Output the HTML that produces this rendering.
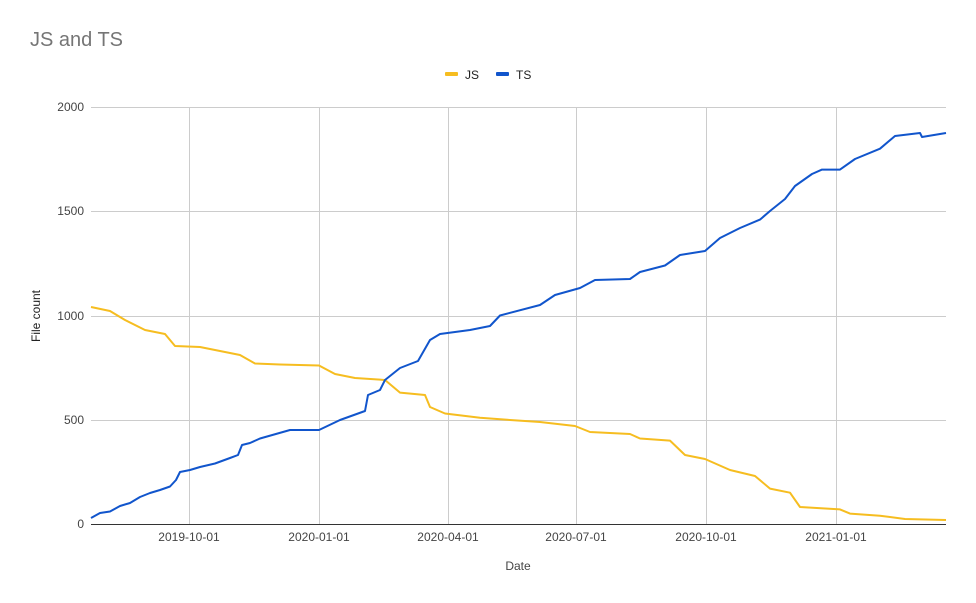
<!DOCTYPE html>
<html><head><meta charset="utf-8"><style>
html,body{margin:0;padding:0;background:#fff;}
svg{display:block;font-family:"Liberation Sans",Arial,sans-serif;}
</style></head><body>
<svg width="976" height="603" viewBox="0 0 976 603">
<rect width="976" height="603" fill="#fff"/>
<text x="30" y="46" font-size="20" fill="#757575">JS and TS</text>
<rect x="445" y="72" width="13" height="4" rx="1" fill="#f6bd20"/>
<text x="465" y="79" font-size="12" fill="#222">JS</text>
<rect x="496" y="72" width="13" height="4" rx="1" fill="#1155cc"/>
<text x="516" y="79" font-size="12" fill="#222">TS</text>
<g stroke="#cccccc" stroke-width="1">
<line x1="91" y1="107.5" x2="946" y2="107.5"/>
<line x1="91" y1="211.5" x2="946" y2="211.5"/>
<line x1="91" y1="316.5" x2="946" y2="316.5"/>
<line x1="91" y1="420.5" x2="946" y2="420.5"/>
<line x1="189.5" y1="107" x2="189.5" y2="524"/>
<line x1="319.5" y1="107" x2="319.5" y2="524"/>
<line x1="448.5" y1="107" x2="448.5" y2="524"/>
<line x1="576.5" y1="107" x2="576.5" y2="524"/>
<line x1="706.5" y1="107" x2="706.5" y2="524"/>
<line x1="836.5" y1="107" x2="836.5" y2="524"/>
</g>
<line x1="91" y1="524.5" x2="946" y2="524.5" stroke="#333" stroke-width="1"/>
<g font-size="12" fill="#444" text-anchor="end">
<text x="84" y="111">2000</text>
<text x="84" y="215">1500</text>
<text x="84" y="320">1000</text>
<text x="84" y="424">500</text>
<text x="84" y="528">0</text>
</g>
<g font-size="12" fill="#444" text-anchor="middle">
<text x="189" y="541">2019-10-01</text>
<text x="319" y="541">2020-01-01</text>
<text x="448" y="541">2020-04-01</text>
<text x="576" y="541">2020-07-01</text>
<text x="706" y="541">2020-10-01</text>
<text x="836" y="541">2021-01-01</text>
<text x="518" y="570">Date</text>
</g>
<text x="40" y="316" font-size="12" fill="#222" text-anchor="middle" transform="rotate(-90 40 316)">File count</text>
<polyline fill="none" stroke="#f6bd20" stroke-width="2" stroke-linejoin="round" points="91,307 110,311 125,320 145,330 165,334 175,346 200,347 220,351 240,355 255,363.5 280,364.5 319,365.5 335,374 355,378 385,380 400,392.6 425,395 430,407 445,413.5 480,417.7 510,420 540,422 575,426 590,432 630,434 640,438.5 670,440.6 685,455 705,459 730,470 755,476 770,488.6 790,492.7 800,507 840,509.4 850,513.6 880,515.7 905,519 946,520"/>
<polyline fill="none" stroke="#1155cc" stroke-width="2" stroke-linejoin="round" points="91,518 100,513 110,511.5 120,506 130,503 140,497 150,493 160,490 170,486.5 176,480 180,472 190,470 200,467 215,463.5 230,458 238,455 242,445 250,443 260,438.5 290,430 319,430 340,420 365,411 368,395 380,390 385,380 400,368 418,361 430,340 440,334 470,330 490,326 500,315.5 540,305 555,295 580,288 595,280 630,279 640,272 665,265.5 680,255 705,251 720,238 740,228 760,219.6 770,211 785,199 795,186 812,174 822,169.6 840,169.6 855,159 880,148.7 895,136 920,133 922,137 946,133"/>
</svg>
</body></html>
